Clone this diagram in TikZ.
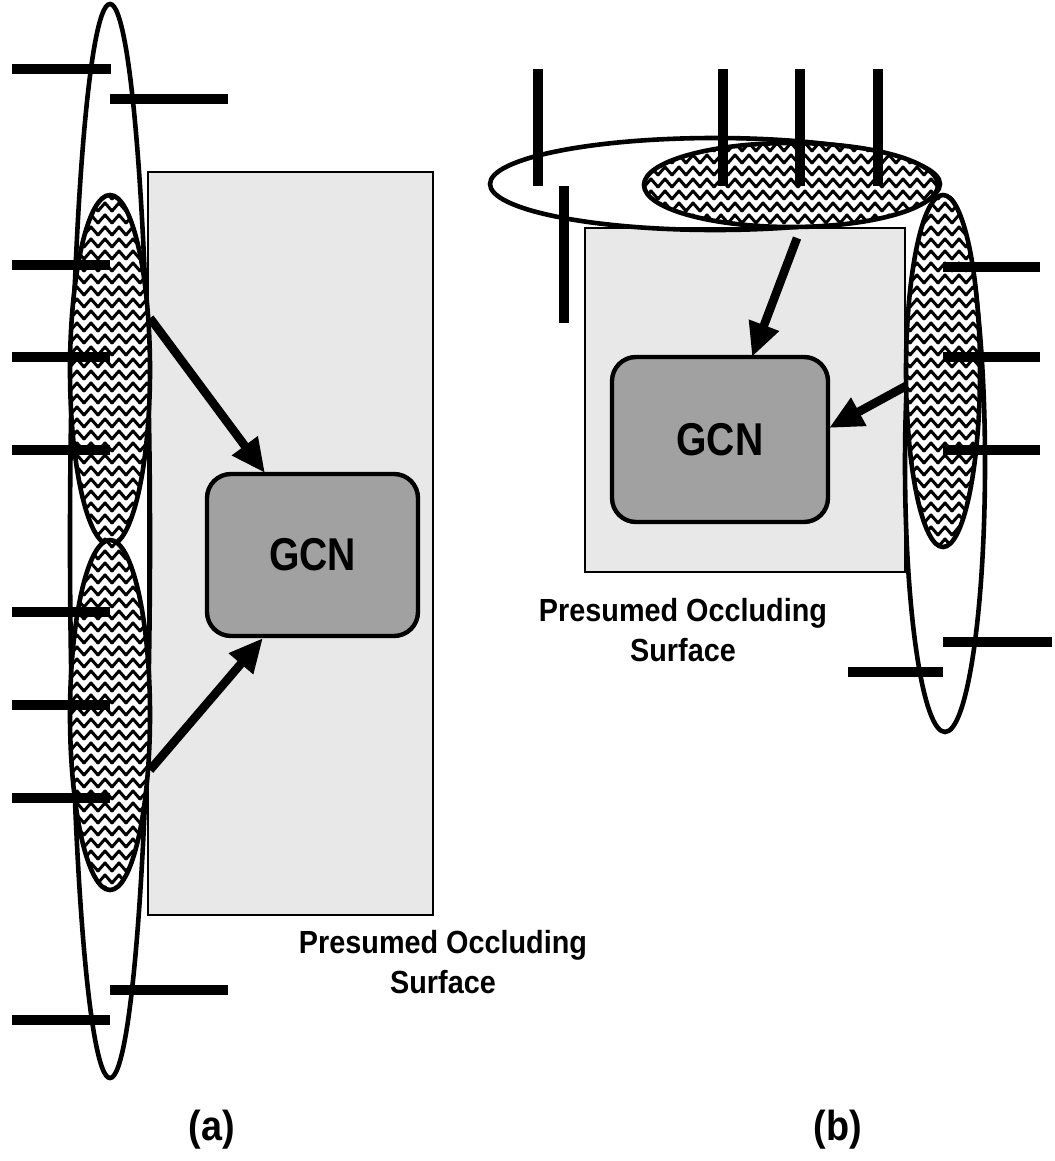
\documentclass[tikz,border=0pt]{standalone}
\usepackage{fontspec}
\newfontfamily\labfont[FakeStretch=0.9]{Liberation Sans}
\newfontfamily\gcnfont[FakeStretch=0.85]{Liberation Sans}
\usetikzlibrary{shapes.geometric,arrows.meta,patterns}
\pgfdeclarepatternformonly{wavy}{\pgfpoint{-0.9pt}{-0.9pt}}{\pgfpoint{7.9pt}{6.9pt}}{\pgfpoint{7pt}{6pt}}{%
  \pgfsetlinewidth{1.5pt}\pgfsetroundjoin\pgfsetroundcap
  \pgfpathmoveto{\pgfpoint{0pt}{1.0pt}}%
  \pgfpathlineto{\pgfpoint{3.5pt}{5.0pt}}%
  \pgfpathlineto{\pgfpoint{7pt}{1.0pt}}%
  \pgfusepath{stroke}}
\tikzset{
  bar/.style={line width=5.2pt},
  outerell/.style={ellipse, draw, line width=2.3pt, inner sep=0pt, outer sep=0pt},
  wavell/.style={ellipse, draw, line width=2.3pt, inner sep=0pt, outer sep=0pt,
     preaction={fill=white}, pattern=wavy},
  surf/.style={draw, line width=1.1pt, fill=black!9, inner sep=0pt, outer sep=0pt},
  gcn/.style={draw, line width=2.2pt, rounded corners=12pt, fill=black!37,
     inner sep=0pt, outer sep=0pt, font=\gcnfont\bfseries\fontsize{23}{26}\selectfont},
  arr/.style={line width=4.3pt, -{Triangle[length=17pt,width=15pt]}},
  lab/.style={font=\labfont\bfseries\fontsize{16}{20}\selectfont, align=center},
  tag/.style={font=\labfont\bfseries\fontsize{21}{24}\selectfont}
}
\begin{document}
\begin{tikzpicture}[x=0.5pt,y=-0.5pt]
\useasboundingbox[fill=white] (0,0) rectangle (1054,1161);
% ---------------- panel (a) ----------------
\node[surf, minimum width=142.5pt, minimum height=371.5pt] (surfa) at (290.5,543.5) {};
\node[outerell, minimum width=40pt, minimum height=537pt] (oa) at (110,541) {};
\node[wavell, minimum width=40pt, minimum height=175pt] (ua) at (110,370) {};
\node[wavell, minimum width=40pt, minimum height=175pt] (la) at (110,715) {};
\node[gcn, minimum width=105.5pt, minimum height=81pt] (ga) at (312.5,555) {GCN};
\coordinate (ua1) at (150,318);
\coordinate (la1) at (150,770);
\coordinate (ga1) at (265,473);
\coordinate (ga2) at (263,638);
\draw[arr] (ua1) -- (ga1);
\draw[arr] (la1) -- (ga2);
\foreach \y in {265,357,450,612,705,798} \draw[bar] (12,\y) -- (110,\y);
\draw[bar] (12,69) -- (111,69);
\draw[bar] (110,99) -- (228,99);
\draw[bar] (110,990) -- (228,990);
\draw[bar] (12,1020) -- (110,1020);
\node[lab] (la-text) at (443,962) {Presumed Occluding\\Surface};
\node[tag] (tag-a) at (212,1130) {(a)};
% ---------------- panel (b) ----------------
\node[surf, minimum width=160pt, minimum height=172pt] (surfb) at (745,400) {};
\node[outerell, minimum width=225pt, minimum height=46pt] (ob) at (715,184) {};
\node[wavell, minimum width=147pt, minimum height=42pt] (wb) at (791,185) {};
\node[outerell, minimum width=40pt, minimum height=268pt] (orb) at (945,464) {};
\node[wavell, minimum width=37pt, minimum height=176pt] (wr) at (943,371) {};
\node[gcn, minimum width=108pt, minimum height=82.5pt] (gb) at (720,439.5) {GCN};
\coordinate (wb1) at (797,238);
\coordinate (wr1) at (906,386);
\coordinate (gb1) at (752,357);
\coordinate (gb2) at (829,428);
\draw[arr] (wb1) -- (gb1);
\draw[arr] (wr1) -- (gb2);
\draw[bar] (538,69) -- (538,186);
\draw[bar] (564,186) -- (564,323);
\foreach \x in {723,800,878} \draw[bar] (\x,69) -- (\x,186);
\foreach \y in {267,357,450} \draw[bar] (943,\y) -- (1040,\y);
\draw[bar] (943,642) -- (1052,642);
\draw[bar] (848,672) -- (943,672);
\node[lab] (lb-text) at (683,630) {Presumed Occluding\\Surface};
\node[tag] (tag-b) at (838,1130) {(b)};
\end{tikzpicture}
\end{document}
